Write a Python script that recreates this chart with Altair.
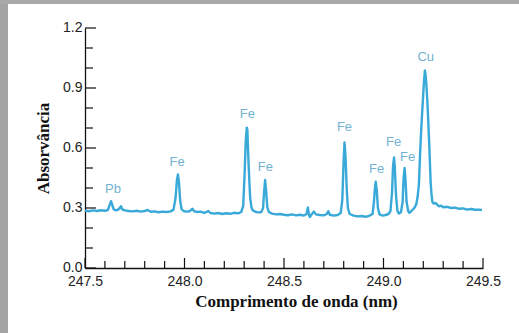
import altair as alt
import pandas as pd

# Spectrum (wavelength in nm, absorbance)
wl = [247.50, 247.52, 247.54, 247.56, 247.58, 247.60, 247.615, 247.625, 247.631, 247.637,
      247.645, 247.655, 247.665, 247.675, 247.681, 247.688, 247.70, 247.72, 247.74, 247.76,
      247.78, 247.80, 247.815, 247.83, 247.85, 247.87, 247.89, 247.91, 247.93, 247.945,
      247.955, 247.962, 247.967, 247.972, 247.978, 247.985, 247.995, 248.01, 248.025, 248.04,
      248.05, 248.065, 248.08, 248.10, 248.12, 248.13, 248.15, 248.17, 248.19, 248.21,
      248.23, 248.25, 248.27, 248.285, 248.295, 248.302, 248.308, 248.313, 248.316, 248.319,
      248.322, 248.326, 248.330, 248.336, 248.342, 248.35, 248.36, 248.37, 248.385, 248.395,
      248.400, 248.405, 248.410, 248.416, 248.424, 248.44, 248.46, 248.48, 248.50, 248.52,
      248.54, 248.56, 248.58, 248.60, 248.613, 248.620, 248.625, 248.63, 248.64, 248.65,
      248.66, 248.68, 248.70, 248.715, 248.723, 248.73, 248.75, 248.77, 248.785, 248.793,
      248.799, 248.804, 248.809, 248.815, 248.821, 248.83, 248.85, 248.87, 248.89, 248.91,
      248.93, 248.945, 248.952, 248.957, 248.961, 248.966, 248.972, 248.98, 248.995, 249.01,
      249.025, 249.035, 249.043, 249.048, 249.053, 249.057, 249.063, 249.070, 249.078, 249.088,
      249.096, 249.101, 249.106, 249.110, 249.116, 249.124, 249.130, 249.140, 249.150, 249.158,
      249.165, 249.172, 249.178, 249.183, 249.188, 249.193, 249.198, 249.203, 249.208, 249.212,
      249.215, 249.220, 249.224, 249.231, 249.237, 249.242, 249.246, 249.252, 249.262, 249.27,
      249.28, 249.29, 249.30, 249.32, 249.34, 249.36, 249.38, 249.40, 249.42, 249.44,
      249.46, 249.48, 249.495]
ab = [0.287, 0.284, 0.288, 0.285, 0.289, 0.286, 0.290, 0.318, 0.334, 0.315,
      0.292, 0.289, 0.291, 0.300, 0.309, 0.293, 0.288, 0.285, 0.283, 0.286,
      0.282, 0.285, 0.290, 0.281, 0.283, 0.279, 0.282, 0.280, 0.283, 0.292,
      0.350, 0.440, 0.468, 0.430, 0.340, 0.295, 0.285, 0.282, 0.284, 0.296,
      0.283, 0.280, 0.282, 0.276, 0.285, 0.275, 0.272, 0.275, 0.270, 0.274,
      0.271, 0.276, 0.273, 0.280, 0.310, 0.470, 0.640, 0.702, 0.690, 0.600,
      0.520, 0.430, 0.350, 0.305, 0.290, 0.284, 0.280, 0.278, 0.279, 0.300,
      0.380, 0.440, 0.390, 0.305, 0.280, 0.272, 0.268, 0.270, 0.266, 0.264,
      0.268, 0.263, 0.266, 0.262, 0.270, 0.303, 0.268, 0.255, 0.270, 0.282,
      0.268, 0.265, 0.263, 0.270, 0.284, 0.266, 0.262, 0.265, 0.275, 0.340,
      0.520, 0.628, 0.560, 0.400, 0.300, 0.270, 0.262, 0.258, 0.260, 0.256,
      0.262, 0.270, 0.330, 0.400, 0.431, 0.390, 0.300, 0.268, 0.262, 0.265,
      0.270, 0.285, 0.380, 0.510, 0.553, 0.500, 0.360, 0.285, 0.272, 0.280,
      0.330, 0.450, 0.500, 0.450, 0.330, 0.285, 0.276, 0.285, 0.295, 0.305,
      0.320, 0.360, 0.420, 0.550, 0.660, 0.755, 0.840, 0.925, 0.988, 0.960,
      0.925, 0.840, 0.755, 0.590, 0.425, 0.360, 0.330, 0.322, 0.325, 0.316,
      0.308, 0.312, 0.304, 0.306, 0.300, 0.302, 0.296, 0.298, 0.292, 0.295,
      0.291, 0.292, 0.290]

# Peak labels
lab_text = ["Pb", "Fe", "Fe", "Fe", "Fe", "Fe", "Fe", "Fe", "Cu"]
lab_x = [247.641, 247.963, 248.316, 248.406, 248.804, 248.965, 249.051, 249.121, 249.212]
lab_y = [0.394, 0.530, 0.770, 0.505, 0.705, 0.494, 0.630, 0.555, 1.056]

# Axis ticks
x_major = [247.5, 248.0, 248.5, 249.0, 249.5]
x_minor = [247.6, 247.7, 247.8, 247.9, 248.1, 248.2, 248.3, 248.4, 248.6, 248.7,
           248.8, 248.9, 249.1, 249.2, 249.3, 249.4]
y_major = [0.0, 0.3, 0.6, 0.9, 1.2]
y_minor = [0.1, 0.2, 0.4, 0.5, 0.7, 0.8, 1.0, 1.1]

W, H = 398, 240
LINE = "#38a9d8"
LABEL = "#72b2d2"

spec = pd.DataFrame({"wl": wl, "ab": ab})
labels = pd.DataFrame({"t": lab_text, "x": lab_x, "y": lab_y})

xs = alt.Scale(domain=[247.5, 249.5], nice=False, zero=False)
ys = alt.Scale(domain=[0, 1.2], nice=False)

x_axis = alt.Axis(
    title="Comprimento de onda (nm)", values=x_major, format=".1f",
    ticks=False, grid=False, domainColor="#111", domainWidth=1.3,
    labelFont="Liberation Sans", labelFontSize=14, labelColor="#222",
    labelPadding=6, labelFlush=False,
    titleFont="Liberation Serif", titleFontSize=17, titleFontWeight="bold",
    titleColor="#111", titleX=211, titleY=33, titleBaseline="middle",
    titleAlign="center", titleAnchor="start",
)
y_axis = alt.Axis(
    title="Absorvância", values=y_major, format=".1f",
    ticks=False, grid=False, domainColor="#111", domainWidth=1.3,
    labelFont="Liberation Sans", labelFontSize=14, labelColor="#222",
    labelPadding=3, labelFlush=False, labelOffset=-1,
    titleFont="Liberation Serif", titleFontSize=17, titleFontWeight="bold",
    titleColor="#111", titleX=-42, titleY=120, titleBaseline="middle",
    titleAlign="center", titleAngle=270, titleAnchor="start",
)

line = alt.Chart(spec).mark_line(color=LINE, strokeWidth=2.4, strokeJoin="round").encode(
    x=alt.X("wl:Q", scale=xs, axis=x_axis),
    y=alt.Y("ab:Q", scale=ys, axis=y_axis),
)

text = alt.Chart(labels).mark_text(
    font="Liberation Sans", fontSize=13, color=LABEL, baseline="middle", align="center"
).encode(x=alt.X("x:Q", scale=xs), y=alt.Y("y:Q", scale=ys), text="t:N")

def xticks(vals, length):
    return alt.Chart(pd.DataFrame({"v": vals})).mark_rule(color="#111", strokeWidth=1.2).encode(
        x=alt.X("v:Q", scale=xs), y=alt.value(H), y2=alt.value(H - length))

def yticks(vals, length):
    return alt.Chart(pd.DataFrame({"v": vals})).mark_rule(color="#111", strokeWidth=1.2).encode(
        y=alt.Y("v:Q", scale=ys), x=alt.value(0), x2=alt.value(length))

# scan border (decoration)
border_left = alt.Chart(pd.DataFrame({"d": [0]})).mark_rect(color="#a4a4a4").encode(
    x=alt.value(-85), x2=alt.value(-77), y=alt.value(-28), y2=alt.value(H + 65))
border_top = alt.Chart(pd.DataFrame({"d": [0]})).mark_rect(color="#a8a8a8").encode(
    x=alt.value(-85), x2=alt.value(W + 36), y=alt.value(-28), y2=alt.value(-24))

chart = alt.layer(
    border_left, border_top,
    xticks(x_minor, 7), xticks(x_major, 10),
    yticks(y_minor, 8), yticks(y_major, 11),
    line, text,
).properties(
    width=W, height=H,
    autosize=alt.AutoSizeParams(type="none"),
    padding={"left": 85, "top": 28, "right": 36, "bottom": 65},
    background="white",
).configure_view(stroke=None)

chart.save("out.html", embed_options={"renderer": "svg", "actions": False})
